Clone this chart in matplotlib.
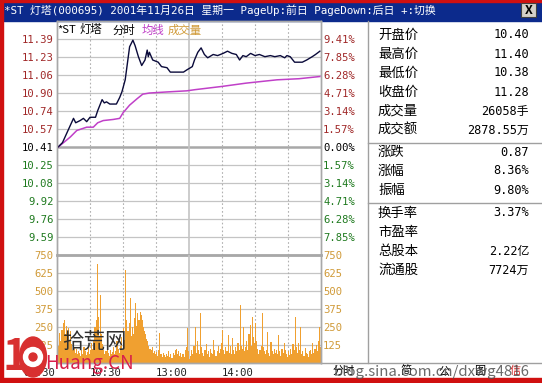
import matplotlib
matplotlib.use("Agg")
import matplotlib.pyplot as plt
from matplotlib.patches import Rectangle, Ellipse, Circle

plt.rcParams['font.family'] = ['Noto Sans CJK SC', 'DejaVu Sans']
MONO = ['DejaVu Sans Mono', 'Noto Sans CJK SC']

W, H = 542, 383

# ---- data ----
title = "*ST 灯塔(000695) 2001年11月26日 星期一 PageUp:前日 PageDown:后日 +:切换"
pre_close = 10.41

pct_values = [-7.85, -6.28, -4.71, -3.14, -1.57, 0.00, 1.57, 3.14, 4.71, 6.28, 7.85, 9.41]
price_labels = ['9.59', '9.76', '9.92', '10.08', '10.25', '10.41',
                '10.57', '10.74', '10.90', '11.06', '11.23', '11.39']
pct_labels = ['7.85%', '6.28%', '4.71%', '3.14%', '1.57%', '0.00%',
              '1.57%', '3.14%', '4.71%', '6.28%', '7.85%', '9.41%']

price_minutes = [0, 5, 10, 15, 17, 21, 24, 27, 30, 35, 37, 41, 43, 45, 48, 54, 57, 59,
                 62, 64, 66, 69, 71, 74, 77, 80, 82, 83, 84, 87, 92, 95, 100, 103, 109,
                 115, 118, 123, 125, 128, 131, 134, 137, 142, 146, 151, 155, 159, 163,
                 166, 169, 172, 176, 180, 184, 189, 194, 198, 203, 207, 209, 212, 216,
                 223, 227, 232, 235, 239]
price_values = [10.40, 10.45, 10.56, 10.67, 10.63, 10.65, 10.67, 10.64, 10.68, 10.68,
                10.74, 10.84, 10.81, 10.82, 10.80, 10.80, 10.86, 10.91,
                11.02, 11.17, 11.32, 11.38, 11.33, 11.23, 11.15, 11.20, 11.29, 11.23,
                11.27, 11.20, 11.18, 11.14, 11.13, 11.09, 11.09,
                11.09, 11.11, 11.14, 11.20, 11.27, 11.31, 11.25, 11.22, 11.25, 11.24,
                11.26, 11.28, 11.26, 11.25, 11.20, 11.24, 11.23, 11.26, 11.24, 11.25,
                11.23, 11.24, 11.23, 11.24, 11.22, 11.24, 11.23, 11.18,
                11.18, 11.20, 11.23, 11.25, 11.28]

avg_minutes = [0, 12, 18, 27, 33, 37, 42, 51, 57, 60, 66, 73, 78, 84, 100, 118,
               125, 150, 172, 200, 220, 239]
avg_values = [10.40, 10.50, 10.56, 10.59, 10.59, 10.63, 10.65, 10.66, 10.67, 10.72,
              10.79, 10.85, 10.89, 10.90, 10.91, 10.92,
              10.93, 10.96, 10.99, 11.02, 11.03, 11.05]

volumes = [180, 120, 210, 150, 230, 280, 300, 200, 260, 180,
           240, 150, 220, 130, 90, 110, 70, 95, 60, 80,
           70, 50, 90, 60, 110, 80, 55, 75, 120, 65,
           90, 140, 100, 160, 250, 300, 690, 320, 180, 470,
           200, 130, 90, 60, 80, 100, 70, 50, 90, 65,
           75, 110, 60, 85, 150, 95, 70, 120, 180, 90,
           240, 160, 645, 300, 220, 280, 450, 190, 250, 200,
           310, 420, 260, 350, 300, 355, 330, 300, 250, 220,
           200, 170, 150, 120, 100, 90, 110, 70, 80, 60,
           75, 50, 90, 210, 60, 45, 70, 55, 40, 65,
           50, 80, 45, 60, 35, 70, 55, 90, 100, 60,
           85, 50, 70, 40, 60, 45, 90, 110, 240, 80,
           30, 50, 90, 60, 120, 250, 70, 150, 90, 60,
           350, 110, 70, 50, 90, 130, 60, 80, 45, 100,
           70, 60, 160, 90, 50, 80, 120, 70, 100, 140,
           230, 90, 60, 110, 80, 195, 70, 120, 60, 175,
           90, 60, 110, 80, 140, 90, 400, 120, 100, 250,
           80, 110, 150, 90, 200, 265, 120, 320, 180, 140,
           280, 150, 100, 60, 90, 120, 350, 110, 80, 60,
           90, 215, 70, 50, 145, 80, 60, 100, 70, 90,
           60, 195, 80, 50, 100, 70, 140, 90, 60, 45,
           80, 55, 100, 60, 130, 90, 320, 110, 70, 140,
           90, 250, 60, 80, 50, 105, 70, 60, 45, 80,
           90, 60, 140, 70, 100, 125, 80, 150, 250, 110]
vol_ticks = [125, 250, 375, 500, 625, 750]
time_ticks = [0, 60, 120, 180]
time_labels = ['09:30', '10:30', '13:00', '14:00']

info_top = [('开盘价', '10.40'), ('最高价', '11.40'), ('最低价', '10.38'),
            ('收盘价', '11.28'), ('成交量', '26058手'), ('成交额', '2878.55万')]
info_mid = [('涨跌', '0.87'), ('涨幅', '8.36%'), ('振幅', '9.80%')]
info_bot = [('换手率', '3.37%'), ('市盈率', ''), ('总股本', '2.22亿'), ('流通股', '7724万')]
tabs = ['分时', '简', '公', '图', '信']

RED_TXT = '#a02828'
GRN_TXT = '#1f7a1f'
VOL_TXT = '#d09a38'
AVG_CLR = '#c040c8'
GRID = '#c4c4c4'


def px_axes(fig, x0, y0, x1, y1, **kw):
    # axes placed by pixel box (top-left origin)
    return fig.add_axes([x0 / W, 1 - y1 / H, (x1 - x0) / W, (y1 - y0) / H], **kw)


def label_color(p):
    if p > 0:
        return RED_TXT
    if p < 0:
        return GRN_TXT
    return 'black'


fig = plt.figure(figsize=(W / 100, H / 100), dpi=100)
fig.patch.set_facecolor('white')

# background / frame in pixel coordinates
bg = fig.add_axes([0, 0, 1, 1])
bg.set_xlim(0, W)
bg.set_ylim(H, 0)
bg.axis('off')
bg.add_patch(Rectangle((0, 0), W, 21, color='#0c2a8c', zorder=1))
bg.add_patch(Rectangle((0, 0), W, 1.5, color='#d01010', zorder=2))
bg.text(4, 10.5, title, color='white', fontsize=7.8, va='center', ha='left',
        family=MONO, zorder=3)
bg.add_patch(Rectangle((521, 3), 15, 14, facecolor='#d4d0c8', edgecolor='#404040',
                       lw=0.8, zorder=3))
bg.text(528.5, 10, 'X', fontsize=9, ha='center', va='center', weight='bold', zorder=4)

# info panel
bg.plot([368, 368], [21, 363], color='#a0a0a0', lw=1, zorder=2)
bg.plot([368, W], [143, 143], color='#a0a0a0', lw=1, zorder=2)
bg.plot([368, W], [203, 203], color='#a0a0a0', lw=1, zorder=2)
bg.plot([321, W], [363, 363], color='#a0a0a0', lw=1, zorder=2)
for rows, y0 in [(info_top, 35), (info_mid, 152), (info_bot, 213)]:
    for i, (name, val) in enumerate(rows):
        y = y0 + i * 19
        bg.text(378, y, name, fontsize=9.6, va='center', ha='left')
        bg.text(529, y, val, fontsize=8.6, va='center', ha='right', family=MONO)

# bottom tabs
for x, t in zip([333, 400, 438, 474, 510], tabs):
    bg.text(x, 371, t, fontsize=8, va='center', ha='left',
            color='#d02020' if t == '信' else 'black', zorder=3)

# ---- price chart ----
lo = pre_close * (1 - 0.0942)
hi = pre_close * (1 + 0.1099)
ax = px_axes(fig, 57, 21, 321, 255)
ax.set_xlim(0, 240)
ax.set_ylim(lo, hi)
ax.set_facecolor('none')
levels = [pre_close * (1 + p / 100) for p in pct_values]
for lv, p in zip(levels, pct_values):
    ax.axhline(lv, color='#a8a8a8' if p == 0 else GRID, lw=1.8 if p == 0 else 0.9, zorder=1)
for m in [30, 60, 90, 150, 180, 210]:
    ax.axvline(m, color='#b0b0b0', lw=0.8, ls=(0, (1.5, 2)), zorder=1)
ax.axvline(120, color=GRID, lw=1.2, zorder=1)
ax.plot(avg_minutes, avg_values, color=AVG_CLR, lw=1.1, zorder=3)
ax.plot(price_minutes, price_values, color='#0a0a3a', lw=1.0, zorder=4)
ax.set_xticks([])
ax.set_yticks(levels, labels=price_labels)
ax.tick_params(axis='y', length=0, pad=2.5, labelsize=7.6)
for t, p in zip(ax.get_yticklabels(), pct_values):
    t.set_color(label_color(p))
    t.set_family(MONO)
ax2 = ax.twinx()
ax2.set_ylim(lo, hi)
ax2.set_yticks(levels, labels=pct_labels)
ax2.tick_params(axis='y', length=0, pad=1.5, labelsize=7.6)
for t, p in zip(ax2.get_yticklabels(), pct_values):
    t.set_color(label_color(p))
    t.set_family(MONO)
for a in (ax, ax2):
    for s in a.spines.values():
        s.set_color('#a8a8a8')
        s.set_linewidth(1)
ax.spines['bottom'].set_linewidth(2)

# header words, placed along the minute axis
hdr = ax.get_xaxis_transform()
for m, word, c in [(0.3, '*ST', 'black'), (20.5, '灯塔', 'black'), (50.5, '分时', 'black'),
                   (77, '均线', AVG_CLR), (101, '成交量', VOL_TXT)]:
    ax.text(m, 0.962, word, transform=hdr, fontsize=8.2, va='center', ha='left', color=c)

# ---- volume chart ----
vax = px_axes(fig, 57, 255, 321, 363)
vax.set_xlim(0, 240)
vax.set_ylim(0, 750)
vax.set_facecolor('none')
for v in vol_ticks[:-1]:
    vax.axhline(v, color=GRID, lw=0.9, zorder=1)
for m in [30, 60, 90, 150, 180, 210]:
    vax.axvline(m, color='#b0b0b0', lw=0.8, ls=(0, (1.5, 2)), zorder=1)
vax.axvline(120, color=GRID, lw=1.2, zorder=1)
vax.bar(range(len(volumes)), volumes, width=1.0, align='edge', color='#f0a030',
        linewidth=0, zorder=2)
vax.set_yticks(vol_ticks, labels=[str(v) for v in vol_ticks])
vax.tick_params(axis='y', length=0, pad=2.5, labelsize=7.6, labelcolor=VOL_TXT)
vax.set_xticks([])
for t in vax.get_yticklabels():
    t.set_family(MONO)
vax2 = vax.twinx()
vax2.set_ylim(0, 750)
vax2.set_yticks(vol_ticks, labels=[str(v) for v in vol_ticks])
vax2.tick_params(axis='y', length=0, pad=1.5, labelsize=7.6, labelcolor=VOL_TXT)
for t in vax2.get_yticklabels():
    t.set_family(MONO)
for a in (vax, vax2):
    for s in a.spines.values():
        s.set_color('#a8a8a8')
        s.set_linewidth(1)
    a.spines['top'].set_visible(False)
for m, lab in zip(time_ticks, time_labels):
    vax.text(m - 1.5, -0.05, lab, transform=vax.get_xaxis_transform(), fontsize=7.6,
             ha='right', va='top', family=MONO, color='#202020')

# ---- overlay: window border and watermarks ----
top = fig.add_axes([0, 0, 1, 1], zorder=10)
top.set_xlim(0, W)
top.set_ylim(H, 0)
top.axis('off')
top.patch.set_visible(False)
top.add_patch(Rectangle((0, 0), 3, H, color='#d01010'))
top.add_patch(Rectangle((0, 378), W, 5, color='#d01010'))
top.text(3, 357, '1', fontsize=31, color='#d83030', weight='bold', style='italic',
         va='center', ha='left')
top.add_patch(Ellipse((33, 357), 27, 40, color='#d83030'))
top.add_patch(Circle((33, 357), 9.5, color='white'))
top.add_patch(Circle((33, 357), 4, color='#d83030'))
top.text(62, 342, '拾荒网', fontsize=15.5, color='#303030', va='center', ha='left')
top.text(45, 364, 'Huang.CN', fontsize=13.5, color='#d8204a', va='center', ha='left')
top.text(334, 372, 'blog.sina.com.cn/dxwg4816', fontsize=10.8, va='center', ha='left',
         color='#505050', alpha=0.85)

fig.savefig('out.png', dpi=100)
